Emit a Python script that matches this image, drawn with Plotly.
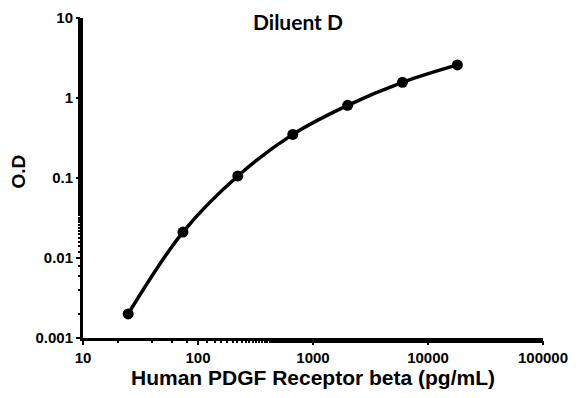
import plotly.graph_objects as go

concentration = [24.7, 74, 222, 667, 2000, 6000, 18000]
od = [0.0020, 0.0211, 0.106, 0.351, 0.81, 1.57, 2.59]
x_ticks = [10, 100, 1000, 10000, 100000]
x_labels = ["10", "100", "1000", "10000", "100000"]
y_ticks = [0.001, 0.01, 0.1, 1, 10]
y_labels = ["0.001", "0.01", "0.1", "1", "10"]

# The page body has a default 8px margin, so the figure is drawn 8px smaller
# and its margins shifted to keep the plot area where the reference has it.
OFF = 8
W, H = 579 - OFF, 398 - OFF
L, R, T, B = 83 - OFF, 36, 18 - OFF, 60
PW, PH = W - L - R, H - T - B

fig = go.Figure()
fig.add_trace(go.Scatter(
    x=concentration, y=od, mode="lines+markers",
    line=dict(color="black", width=3.5, shape="spline", smoothing=1.0),
    marker=dict(color="black", size=11),
    showlegend=False,
))

axis_font = dict(family="Liberation Sans, Arial", size=15, color="black")
fig.update_layout(
    width=W, height=H,
    margin=dict(l=L, r=R, t=T, b=B),
    paper_bgcolor="white", plot_bgcolor="white",
    title=dict(text="<b>Diluent D</b>", x=(298 - OFF) / W, xanchor="center", y=1 - (23 - OFF) / H,
               yanchor="middle", font=dict(family="Lato, Open Sans", size=21, color="black")),
    xaxis=dict(type="log", range=[1, 5], tickvals=x_ticks, ticktext=["<b>%s</b>" % t for t in x_labels],
               showline=True, linecolor="black", linewidth=3, showgrid=False, zeroline=False,
               ticks="outside", ticklen=4, tickwidth=2, tickcolor="black", tickfont=axis_font,
               minor=dict(ticks="outside", ticklen=2, tickwidth=2, tickcolor="black", showgrid=False),
               automargin=False,
               title=dict(text="<b>Human PDGF Receptor beta (pg/mL)</b>", standoff=6,
                          font=dict(family="Liberation Sans, Arial", size=21, color="black"))),
    yaxis=dict(type="log", range=[-3, 1], tickvals=y_ticks, ticktext=["<b>%s</b>" % t for t in y_labels],
               showline=True, linecolor="black", linewidth=3, showgrid=False, zeroline=False,
               ticks="outside", ticklen=4, tickwidth=2, tickcolor="black", tickfont=axis_font,
               minor=dict(ticks="outside", ticklen=2, tickwidth=2, tickcolor="black", showgrid=False),
               automargin=False),
    annotations=[dict(text="<b>O.D</b>", textangle=-90, showarrow=False,
                      xref="paper", yref="paper", x=(17.5 - 83) / PW, y=(338 - 172) / PH,
                      xanchor="center", yanchor="middle",
                      font=dict(family="Liberation Sans, Arial", size=19, color="black"))],
)

fig.write_html("out.html")
